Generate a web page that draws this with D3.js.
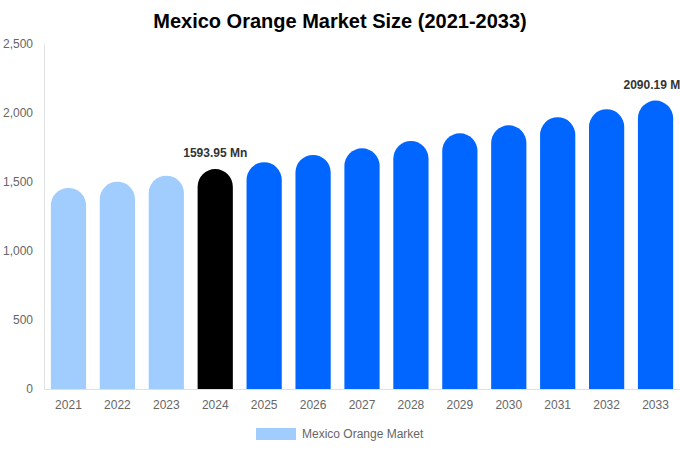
<!DOCTYPE html>
<html>
<head>
<meta charset="utf-8">
<script src="https://cdn.jsdelivr.net/npm/d3@7"></script>
<style>
  body { margin: 0; background: #fff; }
  svg { display: block; font-family: "Liberation Sans", Arial, sans-serif; }
</style>
</head>
<body>
<svg width="680" height="450"></svg>
<script>
// data
const years = ["2021", "2022", "2023", "2024", "2025", "2026", "2027", "2028", "2029", "2030", "2031", "2032", "2033"];
const sizes = [1457, 1502, 1546, 1593.95, 1643, 1696, 1744, 1797, 1853, 1911, 1969, 2027, 2090.19];
const yTicks = [0, 500, 1000, 1500, 2000, 2500];
const labelled = { "2024": "1593.95 Mn", "2033": "2090.19 Mn" };

const svg = d3.select("svg");
const margin = { top: 44, right: 0, bottom: 61, left: 44 };
const width = 680, height = 450;
const innerWidth = width - margin.left - margin.right;
const innerHeight = height - margin.top - margin.bottom;

const x = d3.scaleBand()
  .domain(years)
  .range([0, innerWidth])
  .paddingInner(0.28)
  .paddingOuter(0.14);

const y = d3.scaleLinear()
  .domain([0, 2500])
  .range([innerHeight, 0]);

// bar colour: history / base year / forecast
function barColor(yr) {
  if (+yr < 2024) return "#a0cdfe";
  if (+yr === 2024) return "#000000";
  return "#0066ff";
}

// square bottom, round top
function barPath(d, i) {
  const x0 = x(years[i]);
  const w = x.bandwidth();
  const r = w / 2;
  const top = y(d);
  const bottom = y(0);
  return `M${x0},${bottom} L${x0},${top + r} A${r},${r} 0 0 1 ${x0 + w},${top + r} L${x0 + w},${bottom} Z`;
}

svg.append("text")
  .attr("x", width / 2)
  .attr("y", 28)
  .attr("text-anchor", "middle")
  .attr("font-size", 20)
  .attr("font-weight", "bold")
  .attr("fill", "#000")
  .text("Mexico Orange Market Size (2021-2033)");

const g = svg.append("g")
  .attr("transform", `translate(${margin.left}, ${margin.top})`);

// y axis
const yAxis = g.append("g")
  .call(d3.axisLeft(y).tickValues(yTicks).tickSize(0).tickPadding(11).tickFormat(d3.format(",")));
yAxis.select(".domain").attr("stroke", "#e0e0e0");
yAxis.selectAll("text").attr("fill", "#666").attr("font-size", 12).attr("font-family", "Liberation Sans, Arial, sans-serif");

// x axis
const xAxis = g.append("g")
  .attr("transform", `translate(0, ${innerHeight})`)
  .call(d3.axisBottom(x).tickSize(0).tickPadding(11));
xAxis.select(".domain").attr("stroke", "#e0e0e0");
xAxis.selectAll("text").attr("fill", "#666").attr("font-size", 12).attr("font-family", "Liberation Sans, Arial, sans-serif");

g.selectAll(".bar")
  .data(sizes)
  .join("path")
  .attr("class", "bar")
  .attr("fill", (d, i) => barColor(years[i]))
  .attr("d", barPath);

// value labels
g.selectAll(".val")
  .data(years.filter(yr => labelled[yr]))
  .join("text")
  .attr("class", "val")
  .attr("x", yr => x(yr) + x.bandwidth() / 2)
  .attr("y", yr => y(sizes[years.indexOf(yr)]) - 12)
  .attr("text-anchor", "middle")
  .attr("font-size", 12)
  .attr("font-weight", "bold")
  .attr("fill", "#333")
  .text(yr => labelled[yr]);

// legend
const legend = svg.append("g").attr("transform", "translate(256, 428)");
legend.append("rect")
  .attr("width", 40)
  .attr("height", 12)
  .attr("fill", "#a0cdfe");
legend.append("text")
  .attr("x", 46)
  .attr("y", 10)
  .attr("font-size", 12)
  .attr("fill", "#666")
  .text("Mexico Orange Market");
</script>
</body>
</html>
